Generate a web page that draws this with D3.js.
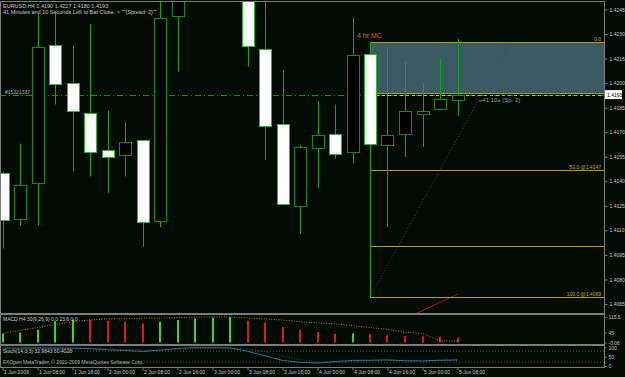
<!DOCTYPE html>
<html>
<head>
<meta charset="utf-8">
<script src="https://cdn.jsdelivr.net/npm/d3@7"></script>
<style>
    body { margin: 0; background: #030b05; }
    svg { display: block; font-family: "Liberation Sans", Arial, sans-serif; }
</style>
</head>
<body>
<svg id="chart" width="625" height="377"></svg>
<script>
// EURUSD H4 bars
var barTimes = [
    "2009-06-01 00:00", "2009-06-01 04:00", "2009-06-01 08:00", "2009-06-01 12:00", "2009-06-01 16:00", "2009-06-01 20:00",
    "2009-06-02 00:00", "2009-06-02 04:00", "2009-06-02 08:00", "2009-06-02 12:00", "2009-06-02 16:00", "2009-06-02 20:00",
    "2009-06-03 00:00", "2009-06-03 04:00", "2009-06-03 08:00", "2009-06-03 12:00", "2009-06-03 16:00", "2009-06-03 20:00",
    "2009-06-04 00:00", "2009-06-04 04:00", "2009-06-04 08:00", "2009-06-04 12:00", "2009-06-04 16:00", "2009-06-04 20:00",
    "2009-06-05 00:00", "2009-06-05 04:00", "2009-06-05 08:00"
];
var opens  = [1.4145, 1.4117, 1.4139, 1.4223, 1.4200, 1.4182, 1.4159, 1.4156, 1.4165, 1.4116, 1.4241, 1.4268, 1.4295, 1.4312,
              1.4276, 1.4221, 1.4175, 1.4125, 1.4160, 1.4169, 1.4158, 1.4218, 1.4162, 1.4169, 1.4181, 1.4184, 1.4190];
var highs  = [1.4146, 1.4163, 1.4242, 1.4243, 1.4223, 1.4236, 1.4183, 1.4176, 1.4165, 1.4252, 1.4275, 1.4302, 1.4338, 1.4325,
              1.4290, 1.4251, 1.4208, 1.4162, 1.4189, 1.4187, 1.4240, 1.4225, 1.4221, 1.4213, 1.4200, 1.4215, 1.4227];
var lows   = [1.4099, 1.4113, 1.4113, 1.4187, 1.4146, 1.4143, 1.4133, 1.4143, 1.4100, 1.4112, 1.4207, 1.4258, 1.4282, 1.4266,
              1.4210, 1.4153, 1.4126, 1.4108, 1.4136, 1.4154, 1.4151, 1.4069, 1.4112, 1.4155, 1.4161, 1.4184, 1.4180];
var closes = [1.4116, 1.4138, 1.4222, 1.4199, 1.4183, 1.4158, 1.4155, 1.4164, 1.4115, 1.4240, 1.4268, 1.4295, 1.4312, 1.4276,
              1.4223, 1.4174, 1.4126, 1.4161, 1.4168, 1.4157, 1.4217, 1.4163, 1.4168, 1.4183, 1.4183, 1.4190, 1.4193];

var macdHist   = [40, 45, 58, 96, 104, 102, 99, 94, 87, 94, 102, 109, 113, 115.6, 99, 91, 70, 58, 48, 40, 41, 38, 33, 29, 28, 27, 23];
var macdSignal = [41, 55, 68, 81, 94, 102, 107, 107, 111, 111, 113, 115, 115.6, 115.6, 111, 107, 102, 94, 89, 85, 76, 68, 59, 46, 41, 7, 7];

var stochMain   = [96, 97, 98, 97, 96, 94, 88, 84, 79, 86, 95, 99, 99, 97, 80, 55, 30, 20, 16, 24, 30, 31, 33, 28, 27, 31, 32.9843];
var stochSignal = [94, 95, 96, 97, 97, 96, 93, 89, 84, 83, 87, 93, 98, 98, 92, 77, 55, 35, 22, 20, 23, 28, 31, 31, 29, 29, 30.4028];

var priceTicks = [1.4245, 1.4230, 1.4215, 1.4200, 1.4185, 1.4170, 1.4155, 1.4140, 1.4125, 1.4110, 1.4095, 1.4080, 1.4065];
var timeTicks = ["2009-06-01 00:00", "2009-06-01 08:00", "2009-06-01 16:00", "2009-06-02 00:00", "2009-06-02 08:00",
                 "2009-06-02 16:00", "2009-06-03 00:00", "2009-06-03 08:00", "2009-06-03 16:00", "2009-06-04 00:00",
                 "2009-06-04 08:00", "2009-06-04 16:00", "2009-06-05 00:00", "2009-06-05 08:00"];
var timeTickLabels = ["1 Jun 2009", "1 Jun 08:00", "1 Jun 16:00", "2 Jun 00:00", "2 Jun 08:00", "2 Jun 16:00", "3 Jun 00:00",
                      "3 Jun 08:00", "3 Jun 16:00", "4 Jun 00:00", "4 Jun 08:00", "4 Jun 16:00", "5 Jun 00:00", "5 Jun 08:00"];
var macdTicks = [115.6, 45, -0.06];
var macdTickLabels = ["115.6", "45", "-0.06"];
var stochTicks = [100, 50, 0];
var stochLevels = [80, 20];

var fibLevels = [0, 20, 50, 80, 100];
var fibLabels = ["0.0", "", "50.0 @1.4147", "", "100.0 @1.4069"];
var fibHigh = 1.4225, fibLow = 1.4069, fibStart = "2009-06-04 12:00";
var fibTrend = [["2009-06-04 12:00", 1.4069], ["2009-06-05 20:00", 1.4225]];
var redTrend = [["2009-06-04 12:00", 1.4046], ["2009-06-05 08:00", 1.4071]];
var bidPrice = 1.4193;
var orderPrice = 1.4193, orderLabel = "#15321337";

var svg = d3.select("#chart");
var W = 625, H = 377, axisX = 604;
var mainTop = 2, mainBottom = 313, macdTop = 315, macdBottom = 344, stochTop = 346, stochBottom = 367;
var bg = "#030b05", frame = "#7d7d7d", txt = "#c8c8c8", green = "#16a516";

var parse = d3.utcParse("%Y-%m-%d %H:%M");
var x = d3.scaleUtc().domain([parse(barTimes[0]), parse(barTimes[26])]).range([2.5, 457.5]);
var y = d3.scaleLinear().domain([1.4245, 1.4065]).range([9.5, 304]);
var yMacd = d3.scaleLinear().domain([0, 115.6]).range([342.5, 317]);
var yStoch = d3.scaleLinear().domain([0, 100]).range([366, 347.5]);

var bars = barTimes.map(function (t, i) {
    return {t: parse(t), o: opens[i], h: highs[i], l: lows[i], c: closes[i]};
});

svg.append("rect").attr("width", W).attr("height", H).attr("fill", bg);

var defs = svg.append("defs");
defs.append("clipPath").attr("id", "clipMain").append("rect")
    .attr("x", 1).attr("y", mainTop).attr("width", axisX - 1).attr("height", mainBottom - mainTop);
defs.append("clipPath").attr("id", "clipMacd").append("rect")
    .attr("x", 1).attr("y", macdTop).attr("width", axisX - 1).attr("height", macdBottom - macdTop);
defs.append("clipPath").attr("id", "clipStoch").append("rect")
    .attr("x", 1).attr("y", stochTop).attr("width", axisX - 1).attr("height", stochBottom - stochTop);

// ---- main panel
var g = svg.append("g").attr("clip-path", "url(#clipMain)");

// rectangle object + fibo
var fx0 = x(parse(fibStart));
g.append("rect")
    .attr("x", fx0).attr("y", y(fibHigh))
    .attr("width", axisX - fx0).attr("height", y(fibHigh - (fibHigh - fibLow) * 0.2) - y(fibHigh))
    .attr("fill", "#3a5b64");

var line = d3.line().x(function (d) { return x(parse(d[0])); }).y(function (d) { return y(d[1]); });
g.append("path").attr("d", line(fibTrend)).attr("fill", "none")
    .attr("stroke", "#3a4a3f").attr("stroke-dasharray", "1,2");
g.append("path").attr("d", line(redTrend)).attr("fill", "none").attr("stroke", "#a0102c");

fibLevels.forEach(function (lv, i) {
    var py = Math.round(y(fibHigh - (fibHigh - fibLow) * lv / 100)) + 0.5;
    g.append("line").attr("x1", fx0).attr("x2", axisX).attr("y1", py).attr("y2", py)
        .attr("stroke", "#b89c10");
    if (fibLabels[i]) {
        g.append("text").attr("x", axisX - 3).attr("y", py - 1.5)
            .attr("text-anchor", "end").attr("font-size", 5).attr("fill", "#c8a818").text(fibLabels[i]);
    }
});

// order line
var oy = Math.round(y(orderPrice)) + 0.5;
g.append("line").attr("x1", 0).attr("x2", axisX).attr("y1", oy).attr("y2", oy)
    .attr("stroke", "#1d8a1d").attr("stroke-dasharray", "6,3,1,3");
g.append("line").attr("x1", fx0).attr("x2", axisX).attr("y1", oy).attr("y2", oy)
    .attr("stroke", "#9ee000").attr("stroke-dasharray", "3,3");
g.append("text").attr("x", 5).attr("y", oy - 2).attr("font-size", 5).attr("fill", "#b0b0b0").text(orderLabel);

// candles
var bw = 13;
var cg = g.selectAll(".bar").data(bars).enter().append("g").attr("class", "bar");
cg.append("line")
    .attr("x1", function (d) { return Math.round(x(d.t)) + 0.5; })
    .attr("x2", function (d) { return Math.round(x(d.t)) + 0.5; })
    .attr("y1", function (d) { return y(d.h); })
    .attr("y2", function (d) { return y(d.l); })
    .attr("stroke", green);
cg.append("rect")
    .attr("x", function (d) { return Math.round(x(d.t)) - 6 + 0.5; })
    .attr("y", function (d) { return Math.round(y(Math.max(d.o, d.c))) + 0.5; })
    .attr("width", bw - 1)
    .attr("height", function (d) { return Math.max(1, Math.round(y(Math.min(d.o, d.c)) - y(Math.max(d.o, d.c)))); })
    .attr("fill", function (d) { return d.c >= d.o ? "#000000" : "#ffffff"; })
    .attr("stroke", function (d) { return d.c >= d.o ? "#128c12" : "#2cb82c"; });

g.append("text").attr("x", 357).attr("y", 38).attr("font-size", 7).attr("fill", "#d2691e").text("4 hr MC");
g.append("text").attr("x", 479).attr("y", 102).attr("font-size", 6).attr("fill", "#9a9a9a").text("\u00ab41.10\u00bb (Sp. 2)");

// header
svg.append("text").attr("x", 3).attr("y", 7.5).attr("font-size", 5.5).attr("fill", txt)
    .text("EURUSD,H4  1.4190 1.4227 1.4180 1.4193");
svg.append("text").attr("x", 3).attr("y", 13.5).attr("font-size", 5.5).attr("fill", txt)
    .text("41 Minutes and 10 Seconds Left to Bar Close. > \"\"(Spread: 2)\"\"");

// ---- MACD panel
var gm = svg.append("g").attr("clip-path", "url(#clipMacd)");
gm.selectAll(".hist").data(macdHist).enter().append("rect")
    .attr("x", function (d, i) { return Math.round(x(bars[i].t)) - 1; })
    .attr("width", 2)
    .attr("y", function (d) { return yMacd(d); })
    .attr("height", function (d) { return yMacd(0) - yMacd(d); })
    .attr("fill", function (d, i) { return (i === 0 || d >= macdHist[i - 1]) ? "#3ad23a" : "#e01818"; });
gm.append("path")
    .datum(macdSignal)
    .attr("d", d3.line().x(function (d, i) { return x(bars[i].t); }).y(function (d) { return yMacd(d); }))
    .attr("fill", "none").attr("stroke", "#c07010").attr("stroke-dasharray", "1,1.5");
svg.append("text").attr("x", 3).attr("y", 321).attr("font-size", 5).attr("fill", txt)
    .text("MACD H4:30(9,26,9) 0.0 23.6 0.0");

// ---- Stochastic panel
var gs = svg.append("g").attr("clip-path", "url(#clipStoch)");
stochLevels.forEach(function (lv) {
    gs.append("line").attr("x1", 0).attr("x2", axisX).attr("y1", yStoch(lv)).attr("y2", yStoch(lv))
        .attr("stroke", "#3a4a4a").attr("stroke-dasharray", "1,2");
});
gs.append("path").datum(stochSignal)
    .attr("d", d3.line().x(function (d, i) { return x(bars[i].t); }).y(function (d) { return yStoch(d); }))
    .attr("fill", "none").attr("stroke", "#26465a").attr("stroke-dasharray", "1,1.5");
gs.append("path").datum(stochMain)
    .attr("d", d3.line().x(function (d, i) { return x(bars[i].t); }).y(function (d) { return yStoch(d); }))
    .attr("fill", "none").attr("stroke", "#3f6d96");
svg.append("text").attr("x", 3).attr("y", 352.5).attr("font-size", 5).attr("fill", txt)
    .text("Stoch(14,3,3) 32.9843 30.4028");
svg.append("text").attr("x", 3).attr("y", 364).attr("font-size", 5).attr("fill", "#b0b0b0")
    .text("FXOpen MetaTrader, \u00a9 2001-2009 MetaQuotes Software Corp.");

// ---- frame
svg.append("line").attr("x1", 0).attr("x2", axisX).attr("y1", 1.5).attr("y2", 1.5).attr("stroke", frame);
svg.append("line").attr("x1", 0.5).attr("x2", 0.5).attr("y1", 1).attr("y2", stochBottom).attr("stroke", frame);
[mainBottom + 1, macdBottom + 1].forEach(function (yy) {
    svg.append("line").attr("x1", 0).attr("x2", axisX).attr("y1", yy).attr("y2", yy)
        .attr("stroke", frame).attr("stroke-width", 2);
});
svg.append("line").attr("x1", 0).attr("x2", axisX + 1).attr("y1", stochBottom + 0.5).attr("y2", stochBottom + 0.5).attr("stroke", frame);

// ---- price axis
var ya = svg.append("g").attr("transform", "translate(" + (axisX + 0.5) + ",0)")
    .call(d3.axisRight(y).tickValues(priceTicks).tickFormat(d3.format(".4f")).tickSize(3).tickSizeOuter(0));
ya.select(".domain").remove();
svg.append("line").attr("x1", axisX + 0.5).attr("x2", axisX + 0.5).attr("y1", 1).attr("y2", stochBottom + 1).attr("stroke", frame);
ya.selectAll("line").attr("stroke", frame);
ya.selectAll("text").attr("fill", txt).attr("font-size", 5).attr("x", 5).attr("font-family", "Liberation Sans, Arial, sans-serif");

// bid price box
svg.append("rect").attr("x", axisX + 1).attr("y", y(bidPrice) - 4.5).attr("width", 17).attr("height", 9).attr("fill", "#ffffff");
svg.append("text").attr("x", axisX + 3).attr("y", y(bidPrice) + 2).attr("font-size", 5).attr("fill", "#000")
    .text(d3.format(".4f")(bidPrice));

// macd / stoch axis labels
var ma = svg.append("g").attr("transform", "translate(" + (axisX + 0.5) + ",0)")
    .call(d3.axisRight(yMacd).tickValues(macdTicks).tickFormat(function (d, i) { return macdTickLabels[i]; }).tickSize(2));
ma.select(".domain").remove();
ma.selectAll("line").attr("stroke", frame);
ma.selectAll("text").attr("fill", txt).attr("font-size", 5).attr("x", 4);
var sa = svg.append("g").attr("transform", "translate(" + (axisX + 0.5) + ",0)")
    .call(d3.axisRight(yStoch).tickValues(stochTicks).tickSize(2));
sa.select(".domain").remove();
sa.selectAll("line").attr("stroke", frame);
sa.selectAll("text").attr("fill", txt).attr("font-size", 5).attr("x", 4);

// ---- time axis
var xa = svg.append("g").attr("transform", "translate(0," + (stochBottom + 0.5) + ")")
    .call(d3.axisBottom(x).tickValues(timeTicks.map(parse))
        .tickFormat(function (d, i) { return timeTickLabels[i]; }).tickSize(3).tickSizeOuter(0));
xa.select(".domain").remove();
xa.selectAll("line").attr("stroke", frame);
xa.selectAll("text").attr("fill", txt).attr("font-size", 5).attr("text-anchor", "start").attr("x", 1).attr("dy", "0.1em");
</script>
</body>
</html>
